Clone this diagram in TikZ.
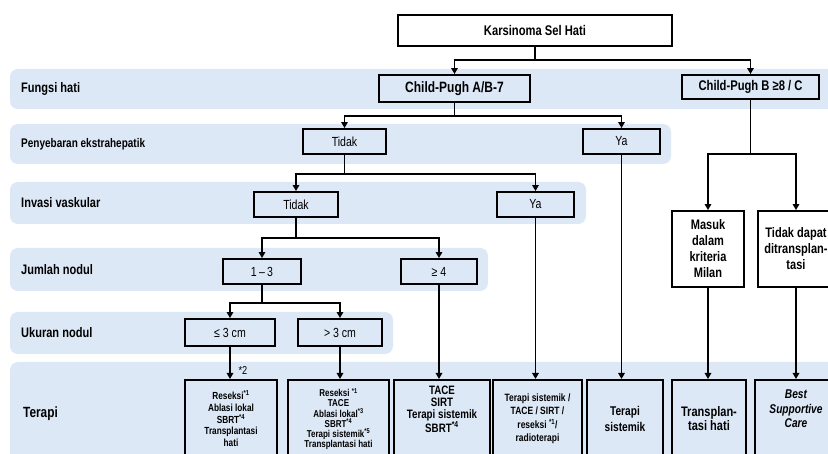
\documentclass[tikz,border=0pt]{standalone}
\usepackage{fontspec}
\setmainfont{Liberation Sans}[FakeStretch=0.8]
\usetikzlibrary{positioning,arrows.meta}
\definecolor{laneblue}{RGB}{221,232,247}
\newcommand{\fsz}[2]{\fontsize{#1}{#2}\selectfont}

\begin{document}
\begin{tikzpicture}[x=1pt, y=-1pt, every node/.style={inner sep=2pt},
  lane/.style={fill=laneblue, rounded corners=8pt},
  lanetitle/.style={anchor=west, font=\bfseries\fsz{13.8}{15}},
  choice/.style={draw, line width=1.9pt, minimum height=25pt, font=\fsz{13.2}{15}},
  head/.style={choice, align=center, font=\bfseries\fsz{14}{16}},
  therapy/.style={draw, line width=1.9pt, anchor=north, minimum height=78pt, align=center},
  arr/.style={line width=1.9pt, -{Triangle[width=6.5pt,length=6pt]}}]
  \useasboundingbox (0,0) rectangle (828,454);
  \fill[white] (0,0) rectangle (828,454);
  \fill[lane] (10,69) rectangle (850,109);
  \fill[lane] (10,124) rectangle (671,164);
  \fill[lane] (10,182) rectangle (586,224);
  \fill[lane] (10,248) rectangle (488,291);
  \fill[lane] (10,312) rectangle (393,354);
  \fill[lane] (10,362) rectangle (850,480);
  \node[lanetitle] (lfun) at (19,89) {Fungsi hati};
  \node[lanetitle, font=\bfseries\fsz{12.5}{14}] (lspread) at (19,144) {Penyebaran ekstrahepatik};
  \node[lanetitle] (linv) at (19,203) {Invasi vaskular};
  \node[lanetitle] (lnum) at (19,270) {Jumlah nodul};
  \node[lanetitle] (lsize) at (19,333) {Ukuran nodul};
  \node[lanetitle, font=\bfseries\fsz{14.8}{16}] (lther) at (21,414) {Terapi};
  \node[head, minimum width=274pt, minimum height=31pt] (hcc) at (535,30.5) {Karsinoma Sel Hati};
  \node[head, minimum width=151pt, minimum height=27pt, font=\bfseries\fsz{15}{17}] (cpa) at (454.5,88.5) {Child-Pugh A/B-7};
  \node[head, minimum width=137pt, minimum height=24pt] (cpc) at (750.5,87) {Child-Pugh B ≥8 / C};
  \node[choice, minimum width=83pt] (eksno) at (344.5,141.5) {Tidak};
  \node[choice, minimum width=77pt] (eksyes) at (621.5,141.5) {Ya};
  \node[choice, minimum width=84pt] (vasno) at (296,204.5) {Tidak};
  \node[choice, minimum width=77pt] (vasyes) at (535.5,204.5) {Ya};
  \node[choice, minimum width=78pt] (nodfew) at (262,271.5) {1\,–\,3};
  \node[choice, minimum width=76pt] (nodmany) at (439,271.5) {≥ 4};
  \node[choice, minimum width=90pt, minimum height=27pt] (small) at (230,332.5) {≤ 3 cm};
  \node[choice, minimum width=84pt, minimum height=27pt] (large) at (340,332.5) {> 3 cm};
  \node[head, minimum width=72pt, minimum height=76pt, font=\bfseries\fsz{13.8}{16}] (milan) at (708,249) {Masuk\\dalam\\kriteria\\Milan};
  \node[head, minimum width=76pt, minimum height=76pt, font=\bfseries\fsz{13.8}{16}] (nottx) at (796,249) {Tidak dapat\\ditransplan-\\tasi};
  \node[therapy, minimum width=92pt, font=\bfseries\fsz{10.3}{11.8}] (tsmall) at (231,379) {Reseksi\textsuperscript{*1}\\Ablasi lokal\\SBRT\textsuperscript{*4}\\Transplantasi\\hati};
  \node[therapy, minimum width=101pt, font=\bfseries\fsz{10}{10.1}] (tlarge) at (338.5,379) {Reseksi \textsuperscript{*1}\\TACE\\Ablasi lokal\textsuperscript{*3}\\SBRT\textsuperscript{*4}\\Terapi sistemik\textsuperscript{*5}\\Transplantasi hati};
  \node[therapy, minimum width=96pt, font=\bfseries\fsz{12.2}{12.2}] (tmany) at (442,379) {TACE\\SIRT\\Terapi sistemik\\SBRT\textsuperscript{*4}\\[8pt]\mbox{}};
  \node[therapy, minimum width=89pt, font=\bfseries\fsz{10.6}{13.5}] (tvas) at (537.5,379) {Terapi sistemik /\\TACE / SIRT /\\reseksi \textsuperscript{*1}/\\radioterapi};
  \node[therapy, minimum width=76pt, font=\bfseries\fsz{12.7}{16}] (teks) at (625,379) {Terapi\\sistemik};
  \node[therapy, minimum width=74pt, font=\bfseries\fsz{13.8}{14}] (ttx) at (709,379) {Transplan-\\tasi hati};
  \node[therapy, minimum width=82pt, font=\bfseries\itshape\fsz{12.7}{14.5}] (tbsc) at (796,379) {Best\\Supportive\\Care\\[6pt]\mbox{}};
  \node[font=\fsz{11.5}{12}] (fn2) at (243,370) {*2};
  \draw[arr] (hcc.south) -- ++(0,13) -| (cpa.north);
  \draw[arr] (hcc.south) -- ++(0,13) -| (cpc.north);
  \draw[arr] (cpa.south) -- ++(0,13) -| (eksno.north);
  \draw[arr] (cpa.south) -- ++(0,13) -| (eksyes.north);
  \draw[arr] (eksno.south) -- ++(0,19) -| (vasno.north);
  \draw[arr] (eksno.south) -- ++(0,19) -| (vasyes.north);
  \draw[arr] (vasno.south) -- ++(0,20) -| (nodfew.north);
  \draw[arr] (vasno.south) -- ++(0,20) -| (nodmany.north);
  \draw[arr] (nodfew.south) -- ++(0,18) -| (small.north);
  \draw[arr] (nodfew.south) -- ++(0,18) -| (large.north);
  \draw[arr] (cpc.south) -- ++(0,54) -| (milan.north);
  \draw[arr] (cpc.south) -- ++(0,54) -| (nottx.north);
  \draw[arr] (small.south) -- (small.south |- tsmall.north);
  \draw[arr] (large.south) -- (large.south |- tlarge.north);
  \draw[arr] (nodmany.south) -- (nodmany.south |- tmany.north);
  \draw[arr] (vasyes.south) -- (vasyes.south |- tvas.north);
  \draw[arr] (eksyes.south) -- (eksyes.south |- teks.north);
  \draw[arr] (milan.south) -- (milan.south |- ttx.north);
  \draw[arr] (nottx.south) -- (nottx.south |- tbsc.north);
\end{tikzpicture}
\end{document}
